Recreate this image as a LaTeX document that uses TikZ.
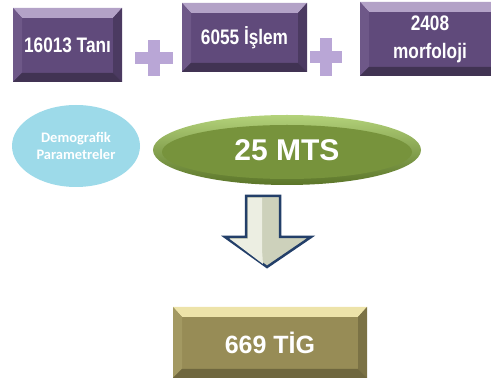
\documentclass[tikz,border=0pt]{standalone}
\usepackage{fontspec}
\setmainfont{Liberation Sans}
\newfontfamily\narrowfont[FakeStretch=0.82]{Liberation Sans}
\newfontfamily\calfont{Carlito}
\usetikzlibrary{shapes.geometric}

\definecolor{lilMain}{HTML}{604A7B}
\definecolor{lilTop}{HTML}{B3A2C7}
\definecolor{lilLeft}{HTML}{6E5888}
\definecolor{lilRight}{HTML}{4B3A61}
\definecolor{lilBottom}{HTML}{413353}
\definecolor{khakiMain}{HTML}{978C56}
\definecolor{khakiTop}{HTML}{EDE3A9}
\definecolor{khakiLeft}{HTML}{A39962}
\definecolor{khakiRight}{HTML}{7B7245}
\definecolor{khakiBottom}{HTML}{6F673E}
\definecolor{plusFill}{HTML}{B9A6D6}
\definecolor{skyFill}{HTML}{9DDAE9}
\definecolor{oliveMain}{HTML}{77933C}
\definecolor{oliveLight}{HTML}{B3D27A}
\definecolor{oliveDark}{HTML}{5B7529}
\definecolor{arrowFill}{HTML}{CDD1BB}
\definecolor{arrowLight}{HTML}{ECEEE2}
\definecolor{arrowLine}{HTML}{233F69}

\begin{document}
\begin{tikzpicture}[x=1pt,y=-1pt]

      \tikzset{bevelbox/.style={rectangle, inner sep=0pt, fill=#1Main, text=white,
          path picture={
            \fill[#1Top] (path picture bounding box.north west) -- (path picture bounding box.north east)
              -- ([shift={(-9pt,-10pt)}]path picture bounding box.north east) -- ([shift={(9pt,-10pt)}]path picture bounding box.north west) -- cycle;
            \fill[#1Left] (path picture bounding box.north west) -- ([shift={(9pt,-10pt)}]path picture bounding box.north west)
              -- ([shift={(9pt,9pt)}]path picture bounding box.south west) -- (path picture bounding box.south west) -- cycle;
            \fill[#1Right] (path picture bounding box.north east) -- ([shift={(-9pt,-10pt)}]path picture bounding box.north east)
              -- ([shift={(-9pt,9pt)}]path picture bounding box.south east) -- (path picture bounding box.south east) -- cycle;
            \fill[#1Bottom] (path picture bounding box.south west) -- ([shift={(9pt,9pt)}]path picture bounding box.south west)
              -- ([shift={(-9pt,9pt)}]path picture bounding box.south east) -- (path picture bounding box.south east) -- cycle;
          }},
        plussign/.style={fill=plusFill},
        boxtext/.style={font=\narrowfont\bfseries\fontsize{21}{28}\selectfont},
        blockarrow/.style={draw=arrowLine, line width=2.5pt, line join=miter, fill=arrowFill}}

      \useasboundingbox (0,0) rectangle (491,382);

%% Boxes
      	\node[bevelbox=lil, minimum width=109pt, minimum height=74pt, boxtext] (tani) at (67.5,45) {16013 Tanı};
      	\node[bevelbox=lil, minimum width=125pt, minimum height=69pt, boxtext] (islem) at (244.5,37.5) {6055 İşlem};
      	\node[bevelbox=lil, minimum width=140pt, minimum height=74pt, boxtext, align=center] (morf) at (430,39) {2408\\morfoloji};
      	\node[bevelbox=khaki, minimum width=194pt, minimum height=71pt, font=\bfseries\fontsize{25}{27}\selectfont] (tig) at (270,342.5) {669 TİG};

%% Ellipses
      	\node[ellipse, fill=skyFill, minimum width=128pt, minimum height=82pt, inner sep=0pt, text=white,
      	      align=center, font=\calfont\bfseries\fontsize{14.5}{17}\selectfont] (demo) at (76,146) {Demografik\\Parametreler};
      	\node[ellipse, top color=oliveLight, bottom color=oliveDark, minimum width=268pt, minimum height=70pt, inner sep=0pt,
      	      path picture={\fill[oliveMain] ([yshift=-2pt]path picture bounding box.center) ellipse (125pt and 27pt);}] (mts) at (287,150) {};
      	\node[text=white, font=\bfseries\fontsize{30}{32}\selectfont] (mtslabel) at (mts) {25 MTS};

%% Plus signs
      	\coordinate (plusA) at (154,58);
      	\coordinate (plusB) at (326,57);
		\fill[plussign] ([xshift=-19pt,yshift=-6pt]plusA) rectangle ([xshift=19pt,yshift=6pt]plusA);
		\fill[plussign] ([xshift=-6pt,yshift=-18pt]plusA) rectangle ([xshift=6pt,yshift=18pt]plusA);
		\fill[plussign] ([xshift=-16pt,yshift=-6pt]plusB) rectangle ([xshift=16pt,yshift=6pt]plusB);
		\fill[plussign] ([xshift=-6pt,yshift=-19pt]plusB) rectangle ([xshift=6pt,yshift=19pt]plusB);

%% Arrow
		\draw[blockarrow] (246,196) -- (280,196) -- (280,237) -- (311,237) -- (267,267) -- (225,237) -- (246,237) -- cycle;
		\fill[arrowLight] (248,198) -- (262,198) -- (262,250) -- (263,264) -- (230,239) -- (248,239) -- cycle;

	\end{tikzpicture}
\end{document}
